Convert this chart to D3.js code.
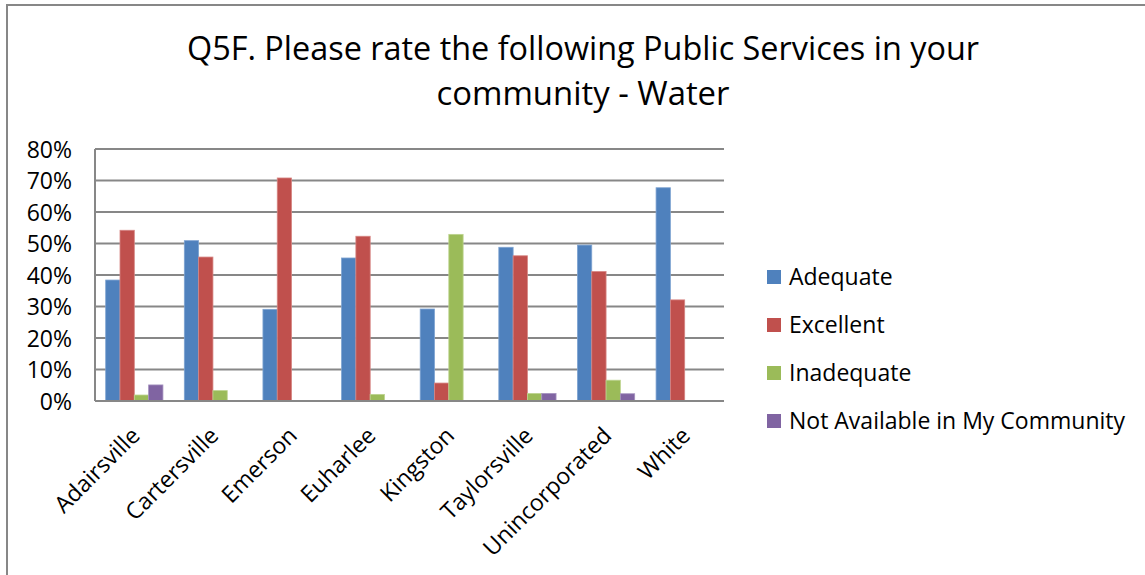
<!DOCTYPE html>
<html>
<head>
<meta charset="utf-8">
<script src="https://cdn.jsdelivr.net/npm/d3@7"></script>
<style>
  html, body { margin: 0; padding: 0; background: #fff; }
  svg { display: block; font-family: "Open Sans", "Noto Sans", sans-serif; }
</style>
</head>
<body>
<svg id="chart" width="1145" height="575"></svg>
<script>
const categories = ["Adairsville", "Cartersville", "Emerson", "Euharlee", "Kingston", "Taylorsville", "Unincorporated", "White"];
const seriesNames = ["Adequate", "Excellent", "Inadequate", "Not Available in My Community"];
const adequate    = [0.384, 0.509, 0.291, 0.454, 0.292, 0.488, 0.495, 0.677];
const excellent   = [0.542, 0.457, 0.708, 0.523, 0.057, 0.461, 0.411, 0.321];
const inadequate  = [0.019, 0.033, null,  0.021, 0.529, 0.024, 0.066, null];
const notAvailable= [0.051, null,  null,  null,  null,  0.024, 0.023, null];
const seriesValues = [adequate, excellent, inadequate, notAvailable];
const yTicks = [0, 0.1, 0.2, 0.3, 0.4, 0.5, 0.6, 0.7, 0.8];
const titleLines = ["Q5F. Please rate the following Public Services in your", "community - Water"];
const colors = ["#4F81BD", "#C0504D", "#9BBB59", "#8064A2"];
const strokes = ["#7EA3D1", "#D68583", "#BDD38F", "#A592BF"];

const svg = d3.select("#chart");
const W = 1145, H = 575;
const plot = {left: 95, right: 724, top: 149, bottom: 401};

// outer chart border (left and top visible)
svg.append("line").attr("x1", 7).attr("x2", 7).attr("y1", 5).attr("y2", H).attr("stroke", "#878787").attr("stroke-width", 2);
svg.append("line").attr("x1", 6).attr("x2", W).attr("y1", 5).attr("y2", 5).attr("stroke", "#878787").attr("stroke-width", 2);

// title
const title = svg.append("text").attr("text-anchor", "middle").attr("font-size", 33).attr("fill", "#000");
title.selectAll("tspan").data(titleLines).enter().append("tspan")
  .attr("x", 583).attr("y", (d, i) => 60 + i * 45)
  .attr("textLength", (d, i) => i === 0 ? 792 : 293)
  .attr("lengthAdjust", "spacingAndGlyphs")
  .text(d => d);

const y = d3.scaleLinear().domain([0, 0.8]).range([plot.bottom, plot.top]);
const x0 = d3.scaleBand().domain(categories).range([plot.left, plot.right]).padding(0);
const bw = x0.bandwidth();
const x1 = d3.scaleBand().domain(seriesNames).range([bw * 0.136, bw * 0.864]).padding(0);

// gridlines
svg.append("g").selectAll("line").data(yTicks).enter().append("line")
  .attr("x1", plot.left).attr("x2", plot.right)
  .attr("y1", d => y(d)).attr("y2", d => y(d))
  .attr("stroke", "#878787").attr("stroke-width", 2);

// y axis line
svg.append("line").attr("x1", plot.left).attr("x2", plot.left).attr("y1", plot.top).attr("y2", plot.bottom)
  .attr("stroke", "#878787").attr("stroke-width", 2);

// y axis labels
const yAxis = d3.axisLeft(y).tickValues(yTicks).tickFormat(d3.format(".0%")).tickSize(0).tickPadding(0);
const yg = svg.append("g").attr("transform", `translate(${plot.left - 23},0)`).call(yAxis);
yg.select(".domain").remove();
yg.selectAll("text").attr("font-size", 23).attr("fill", "#000").attr("font-family", "Open Sans").attr("dy", "0.36em");

// bars
const groups = svg.append("g").selectAll("g").data(categories).enter().append("g")
  .attr("transform", d => `translate(${x0(d)},0)`);
groups.selectAll("rect")
  .data((c, ci) => seriesNames.map((s, si) => ({s, si, v: seriesValues[si][ci]})).filter(d => d.v != null))
  .enter().append("rect")
  .attr("x", d => x1(d.s))
  .attr("width", x1.bandwidth())
  .attr("y", d => y(d.v))
  .attr("height", d => y(0) - y(d.v))
  .attr("fill", d => colors[d.si])
  .attr("stroke", d => strokes[d.si])
  .attr("stroke-width", 0.8);

// baseline axis line
svg.append("line").attr("x1", plot.left).attr("x2", plot.right).attr("y1", y(0)).attr("y2", y(0))
  .attr("stroke", "#878787").attr("stroke-width", 2);

// x axis labels rotated
const xAxis = d3.axisBottom(x0).tickSize(0).tickPadding(0);
const xg = svg.append("g").attr("transform", `translate(0,${plot.bottom})`).call(xAxis);
xg.select(".domain").remove();
xg.selectAll("text")
  .attr("font-size", 23).attr("fill", "#000").attr("font-family", "Open Sans")
  .attr("text-anchor", "end")
  .attr("dy", 0).attr("y", 0)
  .attr("transform", "translate(7,36) rotate(-45)");

// legend
const legend = svg.append("g").selectAll("g").data(seriesNames).enter().append("g")
  .attr("transform", (d, i) => `translate(767,${270 + i * 48})`);
legend.append("rect").attr("width", 14).attr("height", 14).attr("fill", (d, i) => colors[i]);
legend.append("text").attr("x", 22).attr("y", 15).attr("font-size", 23).attr("fill", "#000").text(d => d);
</script>
</body>
</html>
